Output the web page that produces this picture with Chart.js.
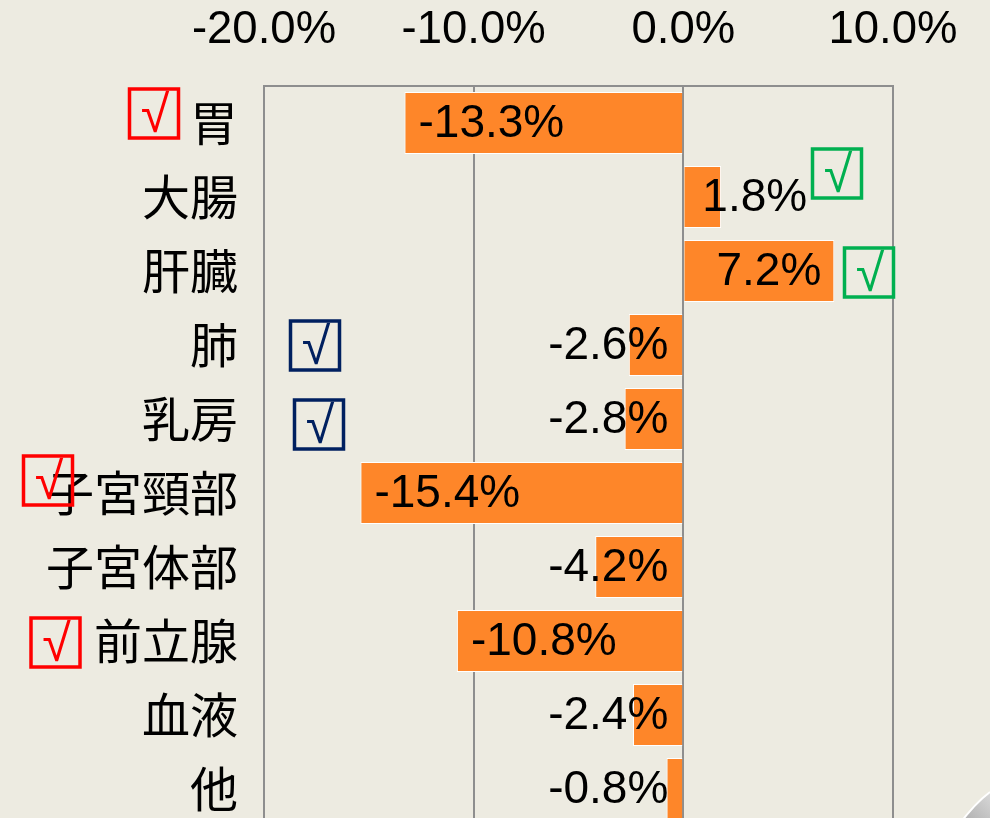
<!DOCTYPE html>
<html>
<head>
<meta charset="utf-8">
<script src="https://cdn.jsdelivr.net/npm/chart.js@4/dist/chart.umd.min.js"></script>
<style>
  html, body { margin: 0; padding: 0; background: #EDEBE1; overflow: hidden; }
  #wrap { position: relative; width: 990px; height: 826px; }
</style>
</head>
<body>
<div id="wrap"><canvas id="c"></canvas></div>
<script>
// ---- data ----
const categories = ['胃', '大腸', '肝臓', '肺', '乳房', '子宮頸部', '子宮体部', '前立腺', '血液', '他'];
const changeValues = [-13.3, 1.8, 7.2, -2.6, -2.8, -15.4, -4.2, -10.8, -2.4, -0.8];
const axisMin = -20, axisMax = 10, axisStep = 10;
const checkCategories = [0, 1, 2, 3, 4, 5, 7];
const checkColors = ['#FF0000', '#00B050', '#00B050', '#002060', '#002060', '#FF0000', '#FF0000'];

// ---- styles / placement ----
const BAR = '#FE8629';
const GRID = '#8E8E8E';
const NUM_FONT = '"Liberation Sans", Arial, sans-serif';
const JP_FONT = '"Noto Sans CJK JP", sans-serif';
const CHECK_FONT = '"Liberation Sans", sans-serif';
const checkPlace = [[154, -9.5], [837, -23.5], [869, 1.5], [315, 0.5], [319, 5.5], [48, -12.5], [55.5, 1.5]];

const dataLabelPlugin = {
  id: 'dataLabels',
  afterDatasetsDraw(chart) {
    const ctx = chart.ctx;
    const meta = chart.getDatasetMeta(0);
    ctx.save();
    ctx.font = '46px ' + NUM_FONT;
    ctx.fillStyle = '#000';
    ctx.textBaseline = 'middle';
    meta.data.forEach((bar, i) => {
      const v = changeValues[i];
      const txt = v.toFixed(1) + '%';
      const w = ctx.measureText(txt).width;
      const len = Math.abs(bar.x - bar.base);
      const y = bar.y + 1;
      if (v < 0) {
        if (w + 28 <= len) { ctx.textAlign = 'left'; ctx.fillText(txt, bar.x + 14, y); }
        else { ctx.textAlign = 'right'; ctx.fillText(txt, bar.base - 14, y); }
      } else {
        if (w + 28 <= len) { ctx.textAlign = 'right'; ctx.fillText(txt, bar.x - 13, y); }
        else { ctx.textAlign = 'left'; ctx.fillText(txt, bar.base + 18, y); }
      }
    });
    ctx.restore();
  }
};

const checkPlugin = {
  id: 'checks',
  afterDraw(chart) {
    const ctx = chart.ctx;
    const ys = chart.scales.y;
    ctx.save();
    checkCategories.forEach((ci, k) => {
      const cx = checkPlace[k][0];
      const cy = ys.getPixelForValue(ci) + checkPlace[k][1];
      const s = 49;
      ctx.strokeStyle = checkColors[k];
      ctx.lineWidth = 3.5;
      ctx.strokeRect(cx - s / 2, cy - s / 2, s, s);
      ctx.fillStyle = checkColors[k];
      ctx.font = '52px ' + CHECK_FONT;
      ctx.textAlign = 'center';
      ctx.textBaseline = 'middle';
      ctx.fillText('√', cx + 1, cy + 4);
    });
    // page curl corner
    const g = ctx.createLinearGradient(960, 826, 990, 795);
    g.addColorStop(0, '#a9a9a9');
    g.addColorStop(1, '#d6d6d6');
    ctx.beginPath();
    ctx.moveTo(958, 826);
    ctx.quadraticCurveTo(975, 803, 990, 792);
    ctx.lineTo(990, 826);
    ctx.closePath();
    ctx.fillStyle = g;
    ctx.fill();
    ctx.beginPath();
    ctx.moveTo(958, 826);
    ctx.quadraticCurveTo(975, 803, 990, 792);
    ctx.strokeStyle = '#ffffff';
    ctx.lineWidth = 2;
    ctx.stroke();
    ctx.restore();
  }
};

new Chart(document.getElementById('c'), {
  type: 'bar',
  data: {
    labels: categories,
    datasets: [{
      data: changeValues,
      backgroundColor: BAR,
      borderColor: '#FFFFFF',
      borderWidth: 1,
      barPercentage: 0.84,
      categoryPercentage: 1
    }]
  },
  options: {
    indexAxis: 'y',
    responsive: true,
    maintainAspectRatio: false,
    animation: false,
    layout: { padding: { top: 1, right: 97, bottom: 0, left: 0 } },
    plugins: { legend: { display: false }, tooltip: { enabled: false } },
    scales: {
      x: {
        position: 'top',
        min: axisMin, max: axisMax,
        ticks: {
          stepSize: axisStep,
          padding: 28,
          color: '#000',
          font: { family: NUM_FONT, size: 45.5 },
          callback: v => v.toFixed(1) + '%',
          maxRotation: 0
        },
        grid: { color: GRID, lineWidth: 2, drawTicks: false },
        border: { display: true, color: GRID, width: 2 },
        afterFit(scale) { scale.paddingLeft = 0; scale.paddingRight = 0; scale.height = 85; }
      },
      y: {
        position: 'left',
        ticks: {
          padding: 26,
          color: '#000',
          font: { family: JP_FONT, size: 48 },
          autoSkip: false
        },
        grid: { display: false, drawTicks: false },
        border: { display: true, color: GRID, width: 2 },
        afterFit(scale) { scale.width = 264; scale.paddingTop = 0; scale.paddingBottom = 0; }
      }
    }
  },
  plugins: [dataLabelPlugin, checkPlugin]
});
</script>
</body>
</html>
